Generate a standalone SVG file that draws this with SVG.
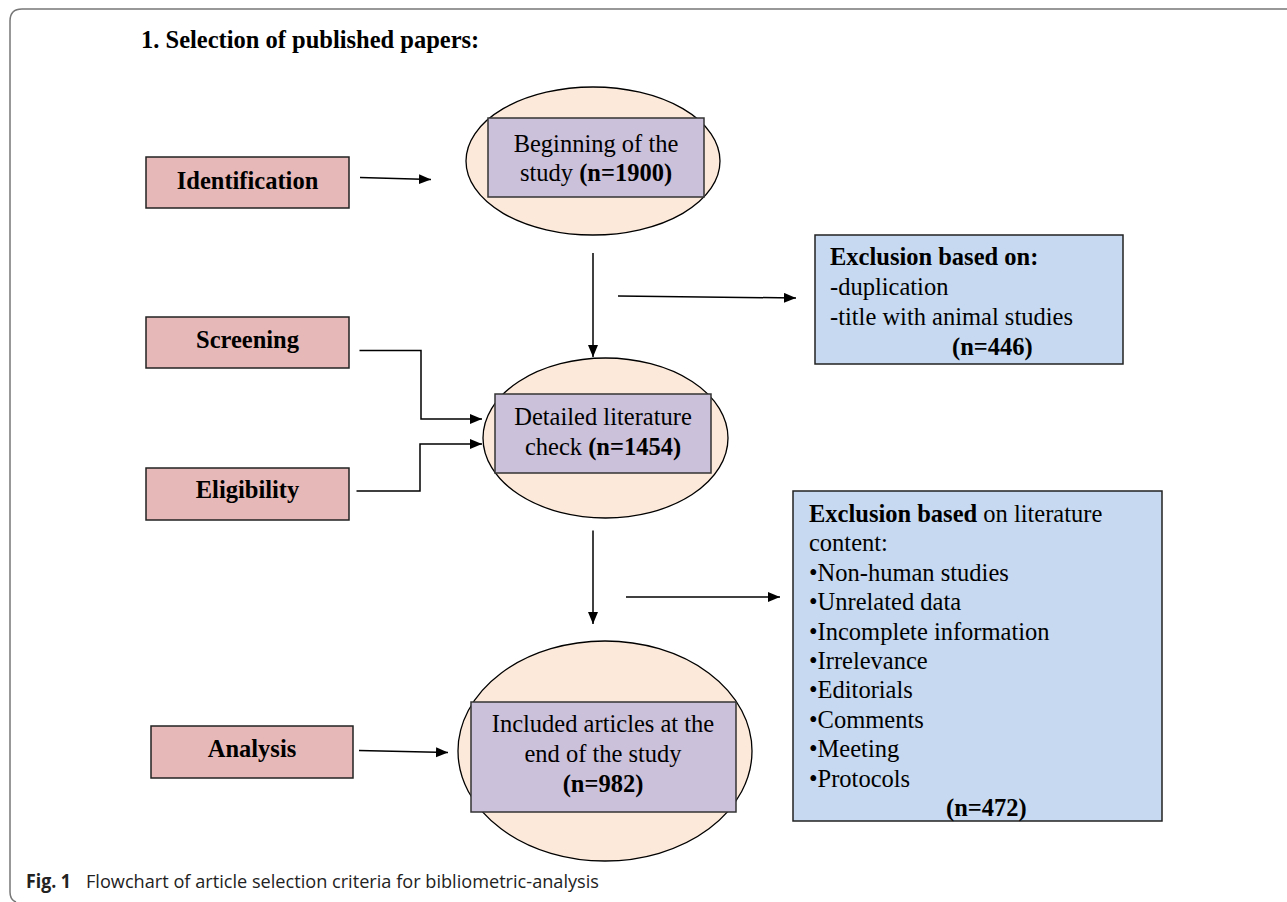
<svg xmlns="http://www.w3.org/2000/svg" width="1287" height="902" viewBox="0 0 1287 902">
<defs>
<marker id="ah" markerUnits="userSpaceOnUse" markerWidth="13" markerHeight="11" refX="12" refY="5" orient="auto">
<path d="M0,0 L12,5 L0,10 z" fill="#000"/>
</marker>
<style>
.t{font-family:"Liberation Serif","Times New Roman",serif;font-size:24.5px;fill:#000}
.b{font-weight:bold}
.stage{fill:#e6b9b8;stroke:#222;stroke-width:1.5}
.oval{fill:#fde9d9;stroke:#000;stroke-width:1.3}
.inner{fill:#ccc1da;stroke:#333;stroke-width:1.5}
.excl{fill:#c6d9f0;stroke:#222;stroke-width:1.5}
.c{fill:none;stroke:#000;stroke-width:1.5}
.cap{font-family:"Open Sans","Noto Sans",sans-serif;font-size:19px;fill:#222}
</style>
</defs>
<rect width="1287" height="902" fill="#fff"/>
<path d="M1287,9 H22 Q10,9 10,21 V892 Q10,900 16,902" fill="none" stroke="#777" stroke-width="1.5"/>
<text class="t b" x="141" y="48">1. Selection of published papers:</text>

<g id="identification">
<rect class="stage" x="146" y="157" width="203" height="51"/>
<text class="t b" x="247.5" y="189" text-anchor="middle">Identification</text>
</g>
<g id="screening">
<rect class="stage" x="146" y="317" width="203" height="51"/>
<text class="t b" x="247.5" y="348" text-anchor="middle">Screening</text>
</g>
<g id="eligibility">
<rect class="stage" x="146" y="468" width="203" height="52"/>
<text class="t b" x="247.5" y="498" text-anchor="middle">Eligibility</text>
</g>
<g id="analysis">
<rect class="stage" x="151" y="726" width="202" height="52"/>
<text class="t b" x="252" y="757" text-anchor="middle">Analysis</text>
</g>

<g id="beginning">
<ellipse class="oval" cx="593" cy="161" rx="127" ry="74"/>
<rect class="inner" x="488" y="118" width="216" height="79"/>
<text class="t" x="596" y="152" text-anchor="middle">Beginning of the</text>
<text class="t" x="596" y="181" text-anchor="middle">study <tspan class="b">(n=1900)</tspan></text>
</g>
<g id="detailed">
<ellipse class="oval" cx="605.5" cy="438" rx="122.5" ry="80"/>
<rect class="inner" x="495" y="394" width="216" height="79"/>
<text class="t" x="603" y="425" text-anchor="middle">Detailed literature</text>
<text class="t" x="603" y="455" text-anchor="middle">check <tspan class="b">(n=1454)</tspan></text>
</g>
<g id="included">
<ellipse class="oval" cx="605" cy="751" rx="147" ry="110"/>
<rect class="inner" x="471" y="702" width="265" height="110"/>
<text class="t" x="603" y="732" text-anchor="middle">Included articles at the</text>
<text class="t" x="603" y="762" text-anchor="middle">end of the study</text>
<text class="t b" x="603" y="792" text-anchor="middle">(n=982)</text>
</g>
<g id="exclusion1">
<rect class="excl" x="815" y="235" width="308" height="129"/>
<text class="t b" x="830" y="265">Exclusion based on:</text>
<text class="t" x="830" y="295">-duplication</text>
<text class="t" x="830" y="325">-title with animal studies</text>
<text class="t b" x="952" y="355">(n=446)</text>
</g>
<g id="exclusion2">
<rect class="excl" x="793" y="491" width="369" height="330"/>
<text class="t" x="809" y="522"><tspan class="b">Exclusion based</tspan> on literature</text>
<text class="t" x="809" y="551.4">content:</text>
<text class="t" x="809" y="580.8">•Non-human studies</text>
<text class="t" x="809" y="610.2">•Unrelated data</text>
<text class="t" x="809" y="639.6">•Incomplete information</text>
<text class="t" x="809" y="669">•Irrelevance</text>
<text class="t" x="809" y="698.4">•Editorials</text>
<text class="t" x="809" y="727.8">•Comments</text>
<text class="t" x="809" y="757.2">•Meeting</text>
<text class="t" x="809" y="786.6">•Protocols</text>
<text class="t b" x="946" y="816">(n=472)</text>
</g>

<g id="connectors">
<path class="c" d="M360,177.5 L431,179.5" marker-end="url(#ah)"/>
<path class="c" d="M593,253 V357" marker-end="url(#ah)"/>
<path class="c" d="M618,296 L796,298" marker-end="url(#ah)"/>
<path class="c" d="M359.5,350.5 H421 V419 H482" marker-end="url(#ah)"/>
<path class="c" d="M356.5,491 H420 V444 H482" marker-end="url(#ah)"/>
<path class="c" d="M593,530.5 V624" marker-end="url(#ah)"/>
<path class="c" d="M626,597 H780" marker-end="url(#ah)"/>
<path class="c" d="M359,750.5 L448,752.5" marker-end="url(#ah)"/>
</g>

<text class="cap" x="26" y="888" font-weight="bold" textLength="45" lengthAdjust="spacingAndGlyphs">Fig. 1</text>
<text class="cap" x="86" y="888" textLength="513" lengthAdjust="spacingAndGlyphs">Flowchart of article selection criteria for bibliometric-analysis</text>
</svg>
